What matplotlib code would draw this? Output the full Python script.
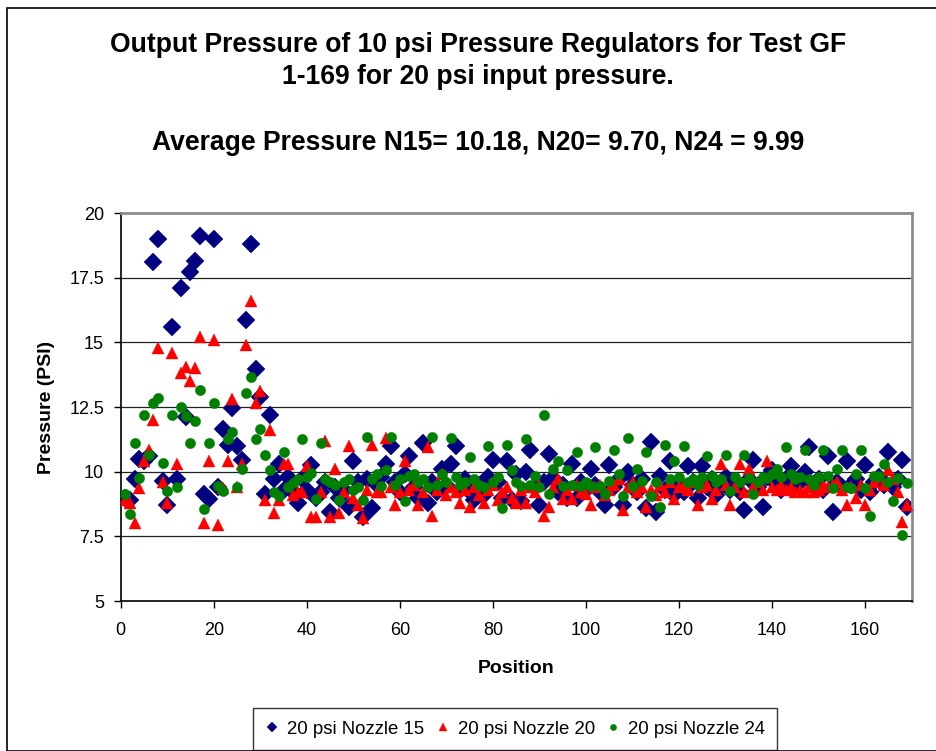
import matplotlib
matplotlib.use("Agg")
import matplotlib.pyplot as plt
from matplotlib.patches import Rectangle

plt.rcParams['font.family'] = ['Liberation Sans', 'DejaVu Sans']

positions = list(range(1, 170))

nozzle15 = [
    9.0, 8.9, 9.7, 10.5, 10.4, 10.6, 18.1, 19.0, 9.65, 8.7,
    15.6, 9.7, 17.1, 12.1, 17.7, 18.15, 19.1, 9.15, 8.95, 19.0,
    9.4, 11.65, 11.05, 12.45, 11.0, 10.45, 15.85, 18.8, 13.95, 12.9,
    9.15, 12.2, 9.7, 10.3, 9.3, 9.8, 9.2, 8.8, 9.7, 9.3,
    10.25, 9.0, 9.2, 9.6, 8.45, 9.4, 9.0, 9.3, 8.65, 10.4,
    9.6, 8.25, 9.7, 8.6, 9.5, 9.8, 10.3, 11.0, 9.6, 9.2,
    9.9, 10.6, 9.4, 9.0, 11.1, 8.8, 9.6, 9.2, 10.1, 9.5,
    10.3, 11.0, 9.3, 9.7, 9.2, 8.9, 9.5, 9.1, 9.8, 10.45,
    9.6, 9.0, 10.4, 8.9, 9.9, 8.85, 10.0, 10.85, 9.4, 8.7,
    9.6, 10.7, 9.75, 9.2, 9.5, 9.0, 10.3, 9.0, 9.6, 9.3,
    10.1, 9.5, 9.2, 8.7, 10.25, 9.4, 9.7, 8.7, 10.0, 9.5,
    9.2, 9.7, 8.6, 11.15, 8.45, 9.85, 9.3, 10.4, 9.1, 9.5,
    9.2, 10.2, 9.6, 9.0, 10.2, 9.4, 9.7, 9.1, 9.5, 9.8,
    9.3, 9.6, 9.2, 8.5, 9.7, 10.45, 9.4, 8.65, 9.8, 10.05,
    9.5, 9.3, 9.7, 10.2, 9.4, 9.6, 10.0, 10.95, 9.5, 9.7,
    9.3, 10.6, 8.45, 9.6, 9.4, 10.4, 9.5, 9.7, 9.3, 10.25,
    9.2, 9.6, 9.8, 9.5, 10.75, 9.4, 9.7, 10.45, 8.65,
]

nozzle20 = [
    8.9, 8.8, 8.0, 9.35, 10.4, 10.85, 12.0, 14.8, 9.6, 8.8,
    14.6, 10.3, 13.8, 14.05, 13.5, 14.0, 15.2, 8.0, 10.4, 15.1,
    7.95, 9.35, 10.4, 12.8, 9.4, 10.3, 14.9, 16.6, 12.65, 13.1,
    8.9, 11.6, 8.4, 8.9, 10.3, 10.3, 9.1, 9.2, 9.2, 10.2,
    8.25, 8.25, 9.2, 11.2, 8.25, 10.1, 8.4, 9.2, 11.0, 9.0,
    8.7, 8.2, 9.3, 11.05, 9.2, 9.2, 11.3, 9.4, 8.7, 9.2,
    10.4, 9.3, 9.5, 8.7, 9.2, 10.95, 8.3, 9.3, 9.9, 9.1,
    9.4, 9.2, 8.8, 9.3, 8.65, 9.4, 9.1, 8.8, 9.3, 9.5,
    8.9, 9.2, 9.4, 9.0, 8.8, 9.3, 8.8, 9.4, 9.2, 9.5,
    8.3, 8.65, 9.4, 9.7, 8.95, 9.3, 8.95, 9.5, 9.2, 9.15,
    8.7, 9.4, 9.5, 9.1, 9.3, 9.5, 9.7, 8.5, 9.4, 9.6,
    9.2, 9.4, 8.65, 9.3, 9.1, 9.5, 9.2, 9.6, 8.95, 9.4,
    9.5, 9.3, 9.6, 8.7, 9.4, 9.5, 8.95, 9.3, 10.3, 9.5,
    8.7, 9.4, 10.3, 9.2, 10.1, 9.4, 9.6, 9.3, 10.4, 9.4,
    9.3, 9.5, 9.3, 9.4, 9.2, 9.3, 9.2, 9.4, 9.2, 9.3,
    9.5, 9.4, 9.5, 9.6, 9.3, 8.7, 9.4, 9.0, 9.5, 8.7,
    9.3, 9.6, 9.8, 9.5, 10.05, 9.7, 9.2, 8.05, 8.7,
]

nozzle24 = [
    9.15, 8.35, 11.1, 9.75, 12.2, 10.65, 12.65, 12.85, 10.35, 9.25,
    12.2, 9.4, 12.5, 12.15, 11.1, 11.95, 13.15, 8.55, 11.1, 12.65,
    9.45, 9.25, 11.25, 11.55, 9.4, 10.1, 13.05, 13.65, 11.25, 11.65,
    10.65, 10.05, 9.2, 9.05, 10.75, 9.4, 9.55, 9.7, 11.25, 9.8,
    9.95, 8.95, 11.1, 9.7, 9.6, 9.5, 8.9, 9.6, 9.7, 9.3,
    9.4, 8.9, 11.35, 9.7, 9.9, 9.45, 10.05, 11.35, 9.5, 9.7,
    8.85, 9.85, 9.9, 9.6, 9.7, 9.4, 11.35, 9.5, 9.9, 9.6,
    11.3, 9.8, 9.5, 9.6, 10.55, 9.7, 9.5, 9.4, 11.0, 9.6,
    9.8, 8.6, 11.05, 10.05, 9.6, 9.45, 11.25, 9.5, 9.85, 9.4,
    12.2, 9.15, 10.1, 10.4, 9.45, 10.05, 9.5, 10.75, 9.45, 9.6,
    9.45, 10.95, 9.45, 9.15, 9.65, 10.85, 9.9, 9.05, 11.3, 9.45,
    10.1, 9.65, 10.75, 9.05, 9.6, 8.65, 11.05, 9.7, 10.4, 9.8,
    11.0, 9.6, 9.7, 9.5, 9.8, 10.6, 9.85, 9.6, 9.7, 10.65,
    9.25, 9.8, 9.6, 10.65, 9.75, 9.15, 9.6, 9.8, 9.75, 9.9,
    10.1, 9.8, 10.95, 9.9, 9.7, 9.8, 10.85, 9.7, 9.5, 9.8,
    10.85, 9.85, 9.35, 10.1, 10.85, 9.4, 9.35, 9.9, 10.85, 9.35,
    8.3, 9.85, 9.85, 10.3, 9.6, 8.85, 9.75, 7.55, 9.55,
]

series_labels = ["20 psi Nozzle 15", "20 psi Nozzle 20", "20 psi Nozzle 24"]
x_ticks = [0, 20, 40, 60, 80, 100, 120, 140, 160]
y_ticks = [5, 7.5, 10, 12.5, 15, 17.5, 20]
y_tick_labels = ["5", "7.5", "10", "12.5", "15", "17.5", "20"]

W, H = 937, 751
fig = plt.figure(figsize=(W / 100, H / 100), dpi=100)
ax = fig.add_axes([120.7 / W, 1 - 601 / H, (911.7 - 120.7) / W, (601 - 213) / H])

for y in y_ticks[1:-1]:
    ax.axhline(y, color='#222222', lw=0.9, zorder=0)

ax.plot(positions, nozzle15, linestyle='none', marker='D', ms=9.0,
        color='#000080', mec='#000080', mew=0.3, label=series_labels[0], zorder=2)
ax.plot(positions, nozzle20, linestyle='none', marker='^', ms=8.8,
        color='#FF0000', mec='#FF0000', mew=0.3, label=series_labels[1], zorder=3)
ax.plot(positions, nozzle24, linestyle='none', marker='o', ms=7.4,
        color='#008000', mec='#008000', mew=0.3, label=series_labels[2], zorder=4)

ax.set_xlim(0, 170)
ax.set_ylim(5, 20)
ax.set_xticks(x_ticks)
ax.set_yticks(y_ticks)
ax.set_yticklabels(y_tick_labels)
ax.tick_params(axis='both', direction='out', length=5, width=1, labelsize=13,
               colors='black')
ax.tick_params(axis='x', pad=10)
ax.tick_params(axis='y', pad=7)
for side in ['left', 'bottom']:
    ax.spines[side].set_color('black')
    ax.spines[side].set_linewidth(1.2)
for side in ['top', 'right']:
    ax.spines[side].set_color('#8c8c8c')
    ax.spines[side].set_linewidth(2)

ax.set_xlabel("Position", fontsize=14, fontweight='bold', labelpad=15)
ax.set_ylabel("Pressure (PSI)", fontsize=14, fontweight='bold', labelpad=10)

cx = 478 / W
fig.text(cx, 1 - 45 / H, "Output Pressure of 10 psi Pressure Regulators for Test GF",
         ha='center', va='center', fontsize=19.1, fontweight='bold')
fig.text(cx, 1 - 77 / H, "1-169 for 20 psi input pressure.",
         ha='center', va='center', fontsize=19.1, fontweight='bold')
fig.text(cx, 1 - 143 / H, "Average Pressure N15= 10.18, N20= 9.70, N24 = 9.99",
         ha='center', va='center', fontsize=19.1, fontweight='bold')

leg = fig.legend(loc='center', bbox_to_anchor=(515 / W, 1 - 729 / H), ncol=3,
                 fontsize=13.4, frameon=True, fancybox=False, markerscale=0.6,
                 handlelength=0.8, handletextpad=0.4, columnspacing=0.6,
                 borderpad=0.65, edgecolor='black')
leg.get_frame().set_linewidth(1.0)

fig.patches.append(Rectangle((7 / W, 0), 1.2, 1 - 8 / H, transform=fig.transFigure,
                             fill=False, edgecolor='black', lw=1.2))

fig.savefig("out.png", dpi=100)
